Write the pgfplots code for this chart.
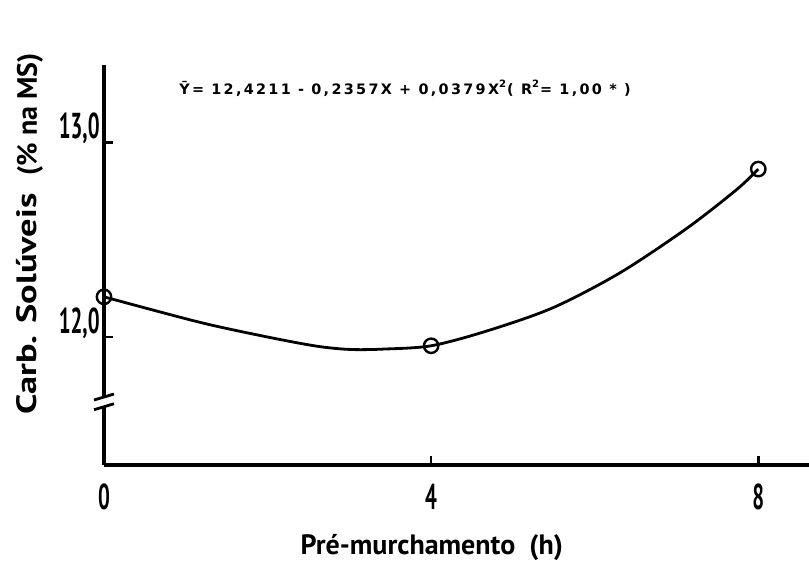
\documentclass[border=0pt]{standalone}
\usepackage{fontspec}
\setmainfont{PT Sans}
\newfontfamily\eqfont[LetterSpace=16]{DejaVu Sans}
\usepackage{graphicx}
\usepackage{pgfplots}
\pgfplotsset{compat=1.18}

% narrow bold digits for the tick labels
\newcommand{\tk}[1]{\scalebox{0.58}[1]{\bfseries\fontsize{18}{18}\selectfont #1}}

\begin{document}
\begin{tikzpicture}
\path[use as bounding box] (-52pt,-56.5pt) rectangle (352.5pt,232.5pt);
\begin{axis}[
  scale only axis, width=352.5pt, height=200pt,
  at={(0,0)}, anchor=south west,
  xmin=0, xmax=8.62, ymin=11.34, ymax=13.40,
  clip=false,
  axis x line=bottom, axis y line=left,
  axis line style={-, line width=1.6pt, black},
  tick align=inside,
  major tick length=4.5pt,
  tick style={line width=1.2pt, black},
  xtick={0,4,8},
  xticklabels={\tk{0},\tk{4},\tk{8}},
  xticklabel style={yshift=-6pt},
  ytick={12,13},
  yticklabels={{\tk{12,0}},{\tk{13,0}}},
  yticklabel style={anchor=south east, inner sep=0pt, xshift=-2pt, yshift=-1pt},
  xlabel={\bfseries\fontsize{14}{14}\selectfont Pré-murchamento\ \ (h)},
  xlabel style={at={(rel axis cs:0.465,0)}, anchor=center, yshift=-41.5pt},
  ylabel={\bfseries\fontsize{14}{14}\selectfont
    \scalebox{1.3}[1]{Carb. Solúveis}\hspace{9pt}(\% na MS)},
  ylabel style={at={(rel axis cs:0,0.578)}, anchor=center, yshift=37pt},
]
% fitted response curve
\addplot[smooth, line width=1.4pt, black] coordinates {
  (0,12.206) (1.17,12.075) (1.99,12.0) (2.60,11.952) (3.01,11.935)
  (3.42,11.937) (4,11.954) (4.68,12.03) (5.49,12.15) (6.31,12.33)
  (7.13,12.56) (7.74,12.76) (8,12.864)
};
% observed means
\addplot[only marks, mark=o, mark size=3.6pt,
  mark options={fill=white, line width=1.2pt, black}] coordinates {
  (0,12.206) (4,11.954) (8,12.864)
};
\node[font=\eqfont\bfseries\fontsize{7.2}{7.2}\selectfont] at (axis cs:3.68,13.28)
  {Ȳ= 12,4211 - 0,2357X + 0,0379X\textsuperscript{2}( R\textsuperscript{2}= 1,00 * )};
\coordinate (brkA) at (axis cs:0,11.69);
\coordinate (brkB) at (axis cs:0,11.64);
\end{axis}
% break marks on the y axis
\fill[white] ([xshift=-2pt]brkB) rectangle ([xshift=2pt]brkA);
\draw[line width=1.4pt] ([xshift=-5pt,yshift=-1.5pt]brkA) -- ([xshift=5pt,yshift=1.5pt]brkA);
\draw[line width=1.4pt] ([xshift=-5pt,yshift=-1.5pt]brkB) -- ([xshift=5pt,yshift=1.5pt]brkB);
\end{tikzpicture}
\end{document}
